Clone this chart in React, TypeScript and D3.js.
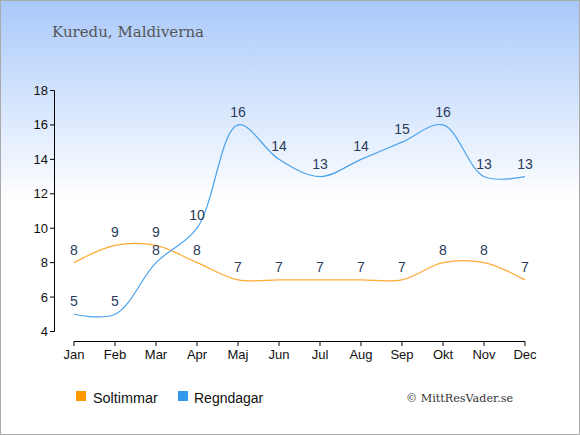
import { useEffect } from 'react';
import * as d3 from 'd3';

const months = ['Jan', 'Feb', 'Mar', 'Apr', 'Maj', 'Jun', 'Jul', 'Aug', 'Sep', 'Okt', 'Nov', 'Dec'];
const soltimmar = [8, 9, 9, 8, 7, 7, 7, 7, 7, 8, 8, 7];
const regndagar = [5, 5, 8, 10, 16, 14, 13, 14, 15, 16, 13, 13];
const yTicks = [4, 6, 8, 10, 12, 14, 16, 18];

const W = 580;
const H = 435;

export default function App() {
  useEffect(() => {
    document.body.style.margin = '0';
  }, []);

  const x = d3.scalePoint<string>().domain(months).range([74, 525]);
  const y = d3.scaleLinear().domain([4, 18]).range([331.5, 90.5]);

  const line = d3
    .line<number>()
    .x((_, i) => x(months[i]) as number)
    .y((d) => y(d))
    .curve(d3.curveCatmullRom.alpha(0.5));

  const series = [
    { name: 'Soltimmar', values: soltimmar, stroke: '#ffaa33', fill: '#ff9900' },
    { name: 'Regndagar', values: regndagar, stroke: '#4aa3ee', fill: '#3399ee' },
  ];

  const labelColor = '#2b3b5c';

  return (
    <svg width={W} height={H} style={{ display: 'block', fontFamily: 'Arial, "Liberation Sans", sans-serif' }}>
      <defs>
        <linearGradient id="bg" x1="0" y1="0" x2="0" y2="1">
          <stop offset="0" stopColor="#a9c9fa" />
          <stop offset="0.46" stopColor="#ffffff" />
          <stop offset="1" stopColor="#ffffff" />
        </linearGradient>
      </defs>
      <rect x={0.5} y={0.5} width={W - 1} height={H - 1} fill="url(#bg)" stroke="#aaaaaa" />

      <text x={52} y={37} fontFamily='"DejaVu Serif", serif' fontSize={15} fill="#555555">
        Kuredu, Maldiverna
      </text>

      {/* y axis */}
      <line x1={54.5} x2={54.5} y1={y(18)} y2={y(4)} stroke="#000" />
      {yTicks.map((t) => (
        <g key={t}>
          <line x1={50} x2={54.5} y1={y(t)} y2={y(t)} stroke="#000" />
          <text x={48} y={y(t) + 4.5} textAnchor="end" fontSize={13} fill="#111">
            {t}
          </text>
        </g>
      ))}

      {/* x axis */}
      <line x1={x('Jan')} x2={x('Dec')} y1={341.5} y2={341.5} stroke="#000" />
      {months.map((m) => (
        <g key={m}>
          <line x1={x(m)} x2={x(m)} y1={341.5} y2={346} stroke="#000" />
          <text x={x(m)} y={359} textAnchor="middle" fontSize={13} fill="#111">
            {m}
          </text>
        </g>
      ))}

      {series.map((s) => (
        <g key={s.name}>
          <path d={line(s.values) || ''} fill="none" stroke={s.stroke} strokeWidth={1.2} />
          {s.values.map((v, i) => (
            <text
              key={i}
              x={x(months[i])}
              y={y(v) - 8}
              textAnchor="middle"
              fontSize={14}
              fill={labelColor}
            >
              {v}
            </text>
          ))}
        </g>
      ))}

      {/* legend */}
      <rect x={76} y={391} width={10} height={10} fill="#ff9900" />
      <text x={93} y={403} fontSize={14.4} fill="#111">Soltimmar</text>
      <rect x={178} y={391} width={10} height={10} fill="#3399ee" />
      <text x={194} y={403} fontSize={14} fill="#111">Regndagar</text>

      <text x={406} y={402} fontFamily='"DejaVu Serif", serif' fontSize={11.2} fill="#333">
        © MittResVader.se
      </text>
    </svg>
  );
}
